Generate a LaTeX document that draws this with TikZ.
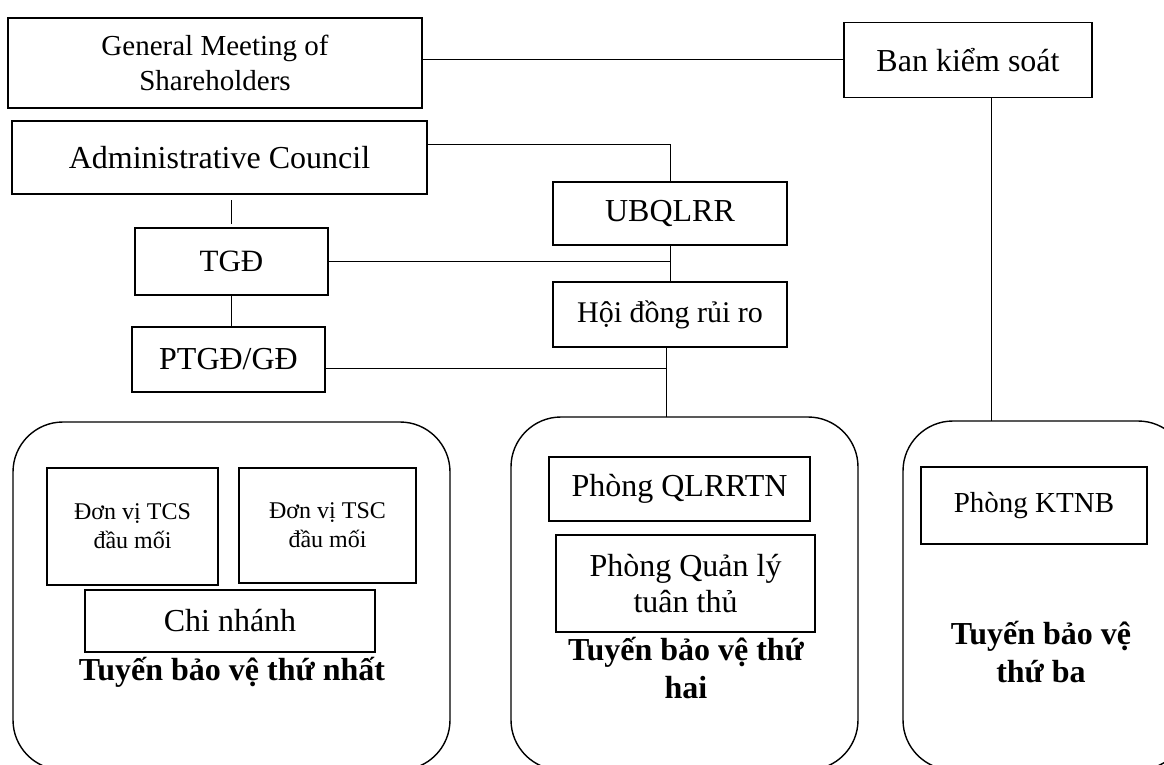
\documentclass[tikz,border=0pt]{standalone}
\usepackage{fontspec}
\setmainfont{Liberation Serif}
\begin{document}
\begin{tikzpicture}[x=1pt,y=-1pt,
  box/.style={draw, line width=1.7pt, inner sep=0pt, outer sep=0pt, align=center, font=\fontsize{32}{36}\selectfont},
  ibox/.style={draw, line width=1.5pt, inner sep=0pt, outer sep=0pt, align=center, font=\fontsize{32}{36}\selectfont},
  linebox/.style={draw, line width=1.4pt, rounded corners=50pt, inner sep=0pt, outer sep=0pt},
  title/.style={inner sep=0pt, outer sep=0pt, align=center, font=\bfseries\fontsize{32}{38}\selectfont},
  conn/.style={line width=1pt}]
\useasboundingbox (0,0) rectangle (1164,765);
\clip (0,0) rectangle (1164,765);

% top boxes
\node[box, font=\fontsize{29}{35}\selectfont, minimum width=414pt, minimum height=90pt] (gms) at (215,63) {General Meeting of\\Shareholders};
\node[box, minimum width=248pt, minimum height=75pt] (ban) at (968,60) {Ban kiểm soát};
\node[box, minimum width=415pt, minimum height=73pt] (adm) at (219.5,157.5) {Administrative Council};
\node[box, minimum width=234pt, minimum height=63pt] (ubq) at (670,213.5) {UBQLRR};
\node[box, font=\fontsize{30}{36}\selectfont, minimum width=234pt, minimum height=65pt] (hd) at (670,314.5) {Hội đồng rủi ro};
\node[box, font=\fontsize{31}{36}\selectfont, minimum width=193pt, minimum height=67pt] (tgd) at (231.5,261.5) {TGĐ};
\node[box, minimum width=193pt, minimum height=65pt] (ptgd) at (228.5,359.5) {PTGĐ/GĐ};

% lines of defence
\node[linebox, minimum width=437pt, minimum height=348pt] (l1) at (231.5,596) {};
\node[linebox, minimum width=347pt, minimum height=353pt] (l2) at (684.5,593.5) {};
\node[linebox, minimum width=285pt, minimum height=349pt] (l3) at (1045.5,595.5) {};

% first line
\node[ibox, font=\fontsize{24}{29}\selectfont, minimum width=171pt, minimum height=117pt] (tcs) at (132.5,526.5) {Đơn vị TCS\\đầu mối};
\node[ibox, font=\fontsize{24}{29}\selectfont, minimum width=177pt, minimum height=115pt] (tsc) at (327.5,525.5) {Đơn vị TSC\\đầu mối};
\node[ibox, minimum width=290pt, minimum height=62pt] (cn) at (230,621) {Chi nhánh};
\node[title, anchor=base] (t1) at (232,680) {Tuyến bảo vệ thứ nhất};

% second line
\node[ibox, minimum width=261pt, minimum height=64pt] (qlrr) at (679.5,489) {Phòng QLRRTN};
\node[ibox, minimum width=259pt, minimum height=97pt] (qltt) at (685.5,583.5) {Phòng Quản lý\\tuân thủ};
\node[title] (t2) at (686,668) {Tuyến bảo vệ thứ\\hai};

% third line
\node[ibox, font=\fontsize{29}{35}\selectfont, minimum width=226pt, minimum height=77pt] (ktnb) at (1034,505.5) {Phòng KTNB};
\node[title] (t3) at (1041,652) {Tuyến bảo vệ\\thứ ba};

% connectors
\draw[conn] (ban.west) -- (ban.west -| gms.east);
\coordinate (bj) at ([xshift=23pt]ban.south);
\draw[conn] (bj) -- (bj |- l3.north);
\draw[conn] ([yshift=13.5pt]adm.east) -| (ubq.north);
\draw[conn] (ubq.south) -- (hd.north);
\draw[conn] (tgd.east) -- (tgd.east -| ubq.south);
\draw[conn, shorten <=4pt, shorten >=6pt] (tgd.north) -- (tgd.north |- adm.south);
\draw[conn] (tgd.south) -- (tgd.south |- ptgd.north);
\coordinate (hj) at ([xshift=-4pt]hd.south);
\draw[conn] (hj) -- (hj |- l2.north);
\coordinate (pj) at ([yshift=-8.5pt]ptgd.east);
\draw[conn] (pj) -- (pj -| hj);
\end{tikzpicture}
\end{document}
